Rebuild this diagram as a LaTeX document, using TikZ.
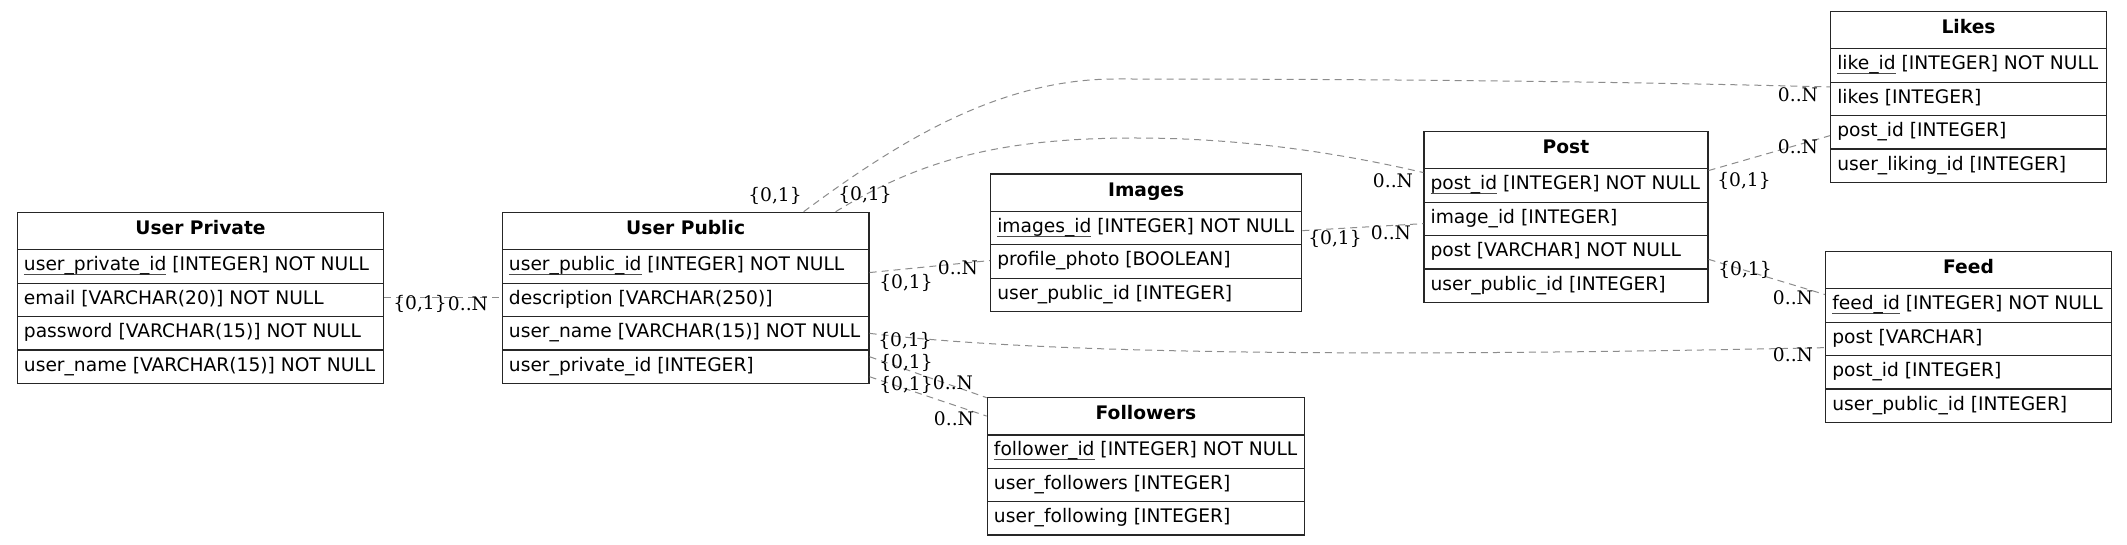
\documentclass[tikz,border=0pt]{standalone}
\usepackage{fontspec}
\setmainfont{DejaVu Sans}
\newfontfamily\lblfont{DejaVu Serif}
\usetikzlibrary{calc}
\newdimen\pxu \pxu=0.75pt
\newcommand{\pk}[1]{\setbox0\hbox{#1}\rlap{\color{black!70}\rule[-4.6\pxu]{\wd0}{1.3\pxu}}\box0\relax}
\newcommand{\erdtable}[6]{%
  \pgfmathsetlengthmacro\tabtw{(#4-13.2)*0.75pt}%
  \node[hdr, minimum width=#4\pxu] (#1) at (#2,#3) {#5};
  \foreach \rowtxt [count=\ri] in {#6} {
    \node[rowbox, minimum width=#4\pxu] (#1-\ri) at (#2,{#3+37.5+(\ri-1)*33.4}) {\makebox[\tabtw][l]{\rowtxt}};
  }
}
\tikzset{
  tbl/.style={draw=black!85, line width=1.3\pxu, inner ysep=0pt, inner xsep=6.6\pxu, anchor=north west,
    font=\fontsize{14pt}{17pt}\selectfont},
  hdr/.style={tbl, minimum height=37.5\pxu, text height=12.65\pxu, text depth=5.35\pxu,
    font=\fontsize{14pt}{17pt}\selectfont\bfseries},
  rowbox/.style={tbl, minimum height=33.4\pxu, text height=13.3\pxu, text depth=4.7\pxu},
  rel/.style={draw=black!45, line width=1\pxu, dash pattern=on 7\pxu off 5\pxu},
  card/.style={font=\lblfont\fontsize{14pt}{17pt}\selectfont, inner sep=0pt, anchor=center}
}
\begin{document}
\begin{tikzpicture}[x=0.75pt,y=-0.75pt]
\path[use as bounding box, fill=white] (0,0) rectangle (2127,545);

\erdtable{UPriv}{16.7}{211.7}{366.3}{User Private}{%
\pk{user\_private\_id} [INTEGER] NOT NULL,%
email [VARCHAR(20)] NOT NULL,%
password [VARCHAR(15)] NOT NULL,%
user\_name [VARCHAR(15)] NOT NULL}

\erdtable{UPub}{501.7}{211.7}{366.6}{User Public}{%
\pk{user\_public\_id} [INTEGER] NOT NULL,%
description [VARCHAR(250)],%
user\_name [VARCHAR(15)] NOT NULL,%
user\_private\_id [INTEGER]}

\erdtable{Img}{990}{173.3}{311}{Images}{%
\pk{images\_id} [INTEGER] NOT NULL,%
profile\_photo [BOOLEAN],%
user\_public\_id [INTEGER]}

\erdtable{Fol}{986.7}{396.7}{317.3}{Followers}{%
\pk{follower\_id} [INTEGER] NOT NULL,%
user\_followers [INTEGER],%
user\_following [INTEGER]}

\erdtable{Post}{1423.3}{130.7}{284}{Post}{%
\pk{post\_id} [INTEGER] NOT NULL,%
image\_id [INTEGER],%
post [VARCHAR] NOT NULL,%
user\_public\_id [INTEGER]}

\erdtable{Likes}{1830}{10.7}{275.7}{Likes}{%
\pk{like\_id} [INTEGER] NOT NULL,%
likes [INTEGER],%
post\_id [INTEGER],%
user\_liking\_id [INTEGER]}

\erdtable{Feed}{1825}{250.7}{285.7}{Feed}{%
\pk{feed\_id} [INTEGER] NOT NULL,%
post [VARCHAR],%
post\_id [INTEGER],%
user\_public\_id [INTEGER]}

% relationships
\draw[rel] ($(UPriv-2.east)+(0,-2)$) -- ($(UPub-2.west)+(0,-2)$);
\draw[rel] ($(UPub-1.east)+(0,6)$) -- ($(Img-2.west)+(0,-1)$);
\draw[rel] (UPub-3.east) .. controls +(182,22) and +(-425,9) .. ($(Feed-2.west)+(0,8.7)$);
\draw[rel] ($(UPub-4.east)+(0,-10)$) -- ($(Fol.north west)+(0,1)$);
\draw[rel] ($(UPub-4.east)+(0,10)$) -- (Fol.west);
\draw[rel] ($(UPub.north)+(118,0)$) .. controls +(97,-72) and +(-115,0) .. ++(312,-132.7)
  .. controls +(300,0) and +(-200,-5) .. ($(Likes-2.west)+(0,-12)$);
\draw[rel] ($(UPub.north)+(150,0)$) .. controls +(85,-52) and +(-135,0) .. ++(300,-73.7)
  .. controls +(115,0) and +(-73,-17) .. ($(Post-1.west)+(0,-13)$);
\draw[rel] ($(Img-1.east)+(0,2.5)$) -- ($(Post-2.west)+(0,4.7)$);
\draw[rel] ($(Post-1.east)+(0,-15)$) -- ($(Likes-3.west)+(0,3.3)$);
\draw[rel] ($(Post-3.east)+(0,7)$) -- ($(Feed-1.west)+(0,-11)$);

% cardinalities
\node[card] (c1a) at (420,304) {\{0,1\}};
\node[card] (c1b) at (468,304) {0..N};
\node[card] (c2a) at (906,283) {\{0,1\}};
\node[card] (c2b) at (958,268) {0..N};
\node[card] (c3a) at (905,341) {\{0,1\}};
\node[card] (c3b) at (1793,355) {0..N};
\node[card] (c4a) at (906,363) {\{0,1\}};
\node[card] (c4b) at (953,383) {0..N};
\node[card] (c5a) at (906,385) {\{0,1\}};
\node[card] (c5b) at (954,419) {0..N};
\node[card] (c6a) at (775,196) {\{0,1\}};
\node[card] (c6b) at (1798,95) {0..N};
\node[card] (c7a) at (865,195) {\{0,1\}};
\node[card] (c7b) at (1393,181) {0..N};
\node[card] (c8a) at (1335,239) {\{0,1\}};
\node[card] (c8b) at (1391,233) {0..N};
\node[card] (c9a) at (1744,181) {\{0,1\}};
\node[card] (c9b) at (1798,147) {0..N};
\node[card] (c10a) at (1745,270) {\{0,1\}};
\node[card] (c10b) at (1793,298) {0..N};
\end{tikzpicture}
\end{document}
